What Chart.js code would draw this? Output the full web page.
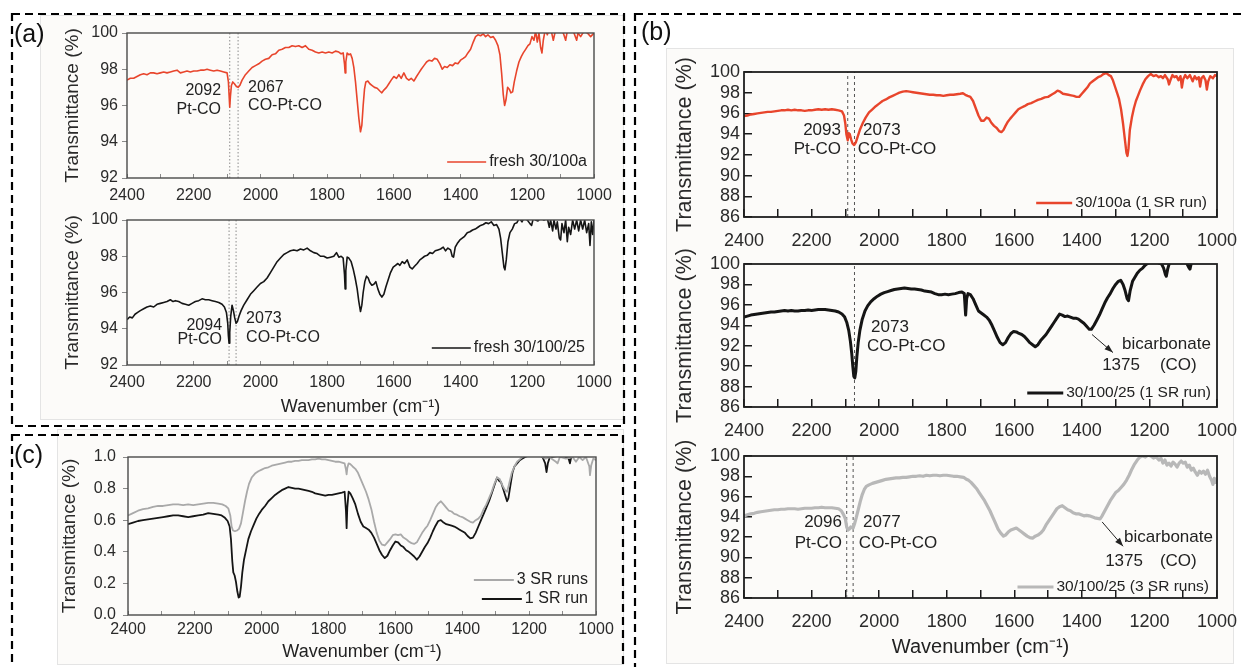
<!DOCTYPE html>
<html>
<head>
<meta charset="utf-8">
<script src="https://cdn.jsdelivr.net/npm/chart.js@4.4.1/dist/chart.umd.min.js"></script>
<style>
body{margin:0;background:#fff;width:1241px;height:667px;overflow:hidden;position:relative;font-family:"Liberation Sans",Arial,sans-serif}
canvas{position:absolute}
.sheet{position:absolute;background:#fcfbf9;border:1px solid #e4e4e4}
.tag{position:absolute;font-size:25px;color:#111;line-height:1}
svg{position:absolute;left:0;top:0}
</style>
</head>
<body>
<div class="sheet" style="left:40px;top:15px;width:582px;height:403px"></div>
<div class="sheet" style="left:57px;top:429px;width:565px;height:234px"></div>
<div class="sheet" style="left:666px;top:48px;width:566px;height:614px"></div>

<canvas id="a1"></canvas>
<canvas id="a2"></canvas>
<canvas id="c1"></canvas>
<canvas id="b1"></canvas>
<canvas id="b2"></canvas>
<canvas id="b3"></canvas>

<svg width="1241" height="667">
  <g fill="none" stroke="#000" stroke-width="2.2" stroke-dasharray="8 5">
    <rect x="12" y="14" width="612" height="412"/>
    <rect x="12" y="435" width="611" height="250"/>
    <rect x="635" y="14" width="630" height="680"/>
  </g>
</svg>
<div class="tag" style="left:14px;top:21px">(a)</div>
<div class="tag" style="left:641px;top:19px">(b)</div>
<div class="tag" style="left:14px;top:442px">(c)</div>

<script>
const FONT = '"Liberation Sans", Arial, sans-serif';

// (a) fresh 30/100a
const waveA1 = [2400,2390,2380,2370,2360,2350,2340,2330,2320,2310,2300,2290,2280,2270,2260,2250,2240,2230,2220,2210,2200,2190,2180,2170,2160,2150,2140,2130,2120,2110,2100,2096,2094,2092,2090,2087,2083,2078,2072,2067,2062,2055,2045,2035,2025,2015,2005,1995,1985,1975,1965,1955,1945,1935,1925,1915,1905,1895,1885,1875,1865,1855,1845,1835,1825,1815,1805,1795,1785,1775,1765,1758,1752,1748,1746,1744,1740,1735,1730,1725,1720,1715,1710,1705,1700,1696,1692,1688,1684,1678,1672,1665,1658,1650,1642,1636,1630,1622,1615,1608,1600,1592,1585,1578,1570,1562,1555,1548,1540,1532,1525,1518,1510,1502,1494,1486,1478,1470,1462,1455,1448,1440,1432,1424,1416,1408,1400,1392,1385,1378,1370,1362,1355,1348,1340,1332,1325,1318,1310,1302,1295,1288,1282,1277,1272,1268,1264,1259,1254,1249,1244,1239,1232,1225,1218,1212,1205,1198,1192,1186,1180,1175,1170,1165,1160,1156,1152,1146,1140,1134,1128,1122,1116,1110,1100,1092,1085,1080,1070,1060,1052,1048,1040,1030,1020,1010,1000];
const transA1 = [97.4,97.5,97.5,97.6,97.7,97.75,97.7,97.8,97.8,97.75,97.8,97.85,97.8,97.85,97.9,97.95,97.8,97.85,97.9,97.85,97.9,97.9,97.95,97.95,98.0,97.95,97.9,97.95,97.9,97.85,97.8,97.3,96.6,95.9,96.5,97.1,97.3,97.2,97.05,97.0,97.1,97.4,97.7,97.9,98.1,98.2,98.3,98.45,98.55,98.6,98.8,98.85,99.05,99.1,99.2,99.2,99.3,99.25,99.3,99.2,99.3,99.1,99.05,98.95,98.9,98.95,98.9,98.95,98.9,99.0,98.95,98.85,98.9,98.3,97.8,98.4,98.9,98.8,98.85,98.6,98.1,97.3,96.3,95.3,94.55,94.9,96.0,96.9,97.3,97.35,97.2,97.1,97.0,96.95,96.8,96.7,96.85,97.0,97.2,97.4,97.6,97.5,97.7,97.5,97.8,97.5,97.4,97.5,97.35,97.6,97.8,98.0,98.2,98.4,98.5,98.45,98.6,98.55,98.3,98.0,98.15,98.1,98.25,98.2,98.35,98.3,98.5,98.6,98.7,98.9,99.1,99.5,99.8,99.9,99.85,99.95,99.8,99.9,99.75,99.8,99.6,99.3,98.8,97.8,96.6,96.0,96.3,97.0,96.9,96.7,96.75,97.3,97.9,98.4,98.7,98.9,99.1,99.3,99.4,99.8,99.6,100.1,99.5,100.0,99.2,98.9,99.6,100.2,99.9,100.2,100.1,99.6,100.1,100.2,100.1,100.0,99.6,100.1,100.2,100.0,99.6,100.0,99.8,100.1,100.0,99.8,100.0];

// (a) fresh 30/100/25
const waveA2 = [2400,2392,2384,2376,2368,2360,2350,2340,2330,2320,2310,2300,2290,2280,2270,2262,2255,2245,2235,2225,2215,2205,2195,2185,2175,2165,2155,2145,2135,2125,2115,2108,2102,2098,2096,2094,2092,2089,2085,2081,2077,2073,2069,2064,2058,2050,2040,2030,2020,2010,2000,1990,1980,1970,1960,1950,1940,1930,1920,1910,1900,1890,1880,1870,1860,1850,1840,1830,1820,1810,1800,1790,1780,1772,1765,1758,1752,1748,1746,1744,1740,1735,1728,1722,1716,1710,1705,1700,1696,1692,1687,1682,1677,1672,1666,1660,1654,1648,1642,1636,1630,1624,1617,1610,1602,1595,1588,1582,1575,1568,1560,1552,1545,1538,1530,1522,1515,1508,1500,1492,1484,1476,1468,1460,1452,1445,1438,1430,1425,1421,1416,1410,1402,1395,1388,1380,1372,1364,1356,1348,1340,1332,1324,1316,1308,1300,1292,1285,1280,1275,1270,1267,1263,1258,1252,1245,1238,1231,1224,1216,1210,1200,1192,1187,1182,1175,1168,1160,1150,1140,1134,1130,1124,1120,1114,1110,1104,1100,1096,1090,1085,1080,1076,1070,1064,1058,1052,1046,1040,1034,1028,1022,1016,1012,1008,1004,1000];
const transA2 = [94.5,94.65,94.6,94.8,94.9,95.0,95.1,95.2,95.25,95.2,95.35,95.4,95.45,95.5,95.6,95.5,95.55,95.5,95.4,95.35,95.3,95.4,95.5,95.55,95.65,95.6,95.6,95.55,95.5,95.45,95.35,95.2,94.9,94.3,93.6,93.2,93.8,94.7,95.3,95.0,94.6,94.3,94.4,94.7,95.0,95.3,95.6,95.9,96.1,96.3,96.5,96.6,96.8,97.1,97.4,97.7,97.9,98.1,98.2,98.3,98.35,98.3,98.4,98.35,98.45,98.3,98.2,98.15,98.0,98.0,97.9,97.95,98.0,98.2,97.95,98.0,97.9,97.0,96.2,97.2,97.95,97.9,97.7,97.3,96.8,96.2,95.5,94.95,95.3,96.0,96.6,96.9,96.8,96.55,96.4,96.45,96.6,96.2,95.9,95.75,95.9,96.3,96.7,97.1,97.4,97.5,97.6,97.5,97.7,97.6,97.8,97.4,97.3,97.45,97.6,97.8,97.9,98.0,98.05,98.2,98.15,98.3,98.35,98.4,98.5,98.3,98.45,98.35,98.0,97.95,98.5,98.7,98.9,99.0,99.1,99.3,99.35,99.45,99.5,99.6,99.7,99.75,99.85,99.8,99.9,99.7,99.75,99.5,99.0,98.2,97.4,97.25,97.8,98.8,99.3,99.5,99.8,99.85,100.1,99.9,100.1,100.0,99.8,99.7,100.1,100.0,99.95,100.1,100.0,100.1,99.6,100.0,99.4,100.0,99.5,99.9,99.0,98.9,99.8,99.3,100.0,98.8,99.6,99.2,100.0,99.5,100.0,99.4,100.0,99.5,100.0,99.3,99.8,98.6,99.9,99.2,100.0];

// (c) 3 SR runs / 1 SR run
const waveC3 = [2400,2385,2370,2355,2340,2325,2310,2295,2280,2265,2250,2235,2220,2205,2190,2175,2160,2145,2130,2118,2108,2100,2094,2090,2086,2080,2074,2068,2062,2056,2050,2044,2038,2030,2020,2010,2000,1990,1980,1970,1960,1950,1940,1930,1920,1910,1900,1890,1880,1870,1860,1850,1840,1830,1820,1810,1800,1790,1780,1770,1760,1752,1748,1746,1744,1740,1735,1728,1720,1712,1704,1696,1688,1680,1672,1664,1656,1648,1640,1632,1624,1616,1608,1600,1592,1584,1576,1568,1560,1552,1544,1536,1528,1520,1512,1504,1496,1488,1480,1472,1464,1456,1448,1440,1432,1424,1416,1408,1400,1392,1384,1376,1368,1360,1352,1344,1336,1328,1320,1312,1304,1296,1288,1280,1272,1266,1260,1252,1244,1236,1228,1220,1212,1200,1190,1180,1150,1140,1120,1115,1108,1090,1070,1060,1050,1040,1030,1020,1018,1014,1008,1000];
const transC3 = [0.63,0.645,0.66,0.67,0.675,0.685,0.69,0.69,0.695,0.70,0.70,0.695,0.70,0.695,0.70,0.705,0.71,0.71,0.705,0.70,0.69,0.675,0.63,0.56,0.535,0.53,0.535,0.545,0.58,0.65,0.72,0.78,0.83,0.87,0.895,0.91,0.92,0.93,0.935,0.945,0.95,0.955,0.96,0.965,0.97,0.97,0.975,0.975,0.98,0.98,0.98,0.985,0.985,0.99,0.985,0.985,0.98,0.975,0.97,0.97,0.965,0.96,0.92,0.89,0.93,0.96,0.955,0.94,0.925,0.90,0.86,0.82,0.78,0.73,0.67,0.59,0.52,0.47,0.445,0.44,0.46,0.48,0.505,0.51,0.505,0.51,0.49,0.48,0.465,0.455,0.45,0.46,0.49,0.52,0.545,0.565,0.60,0.64,0.68,0.705,0.72,0.70,0.68,0.66,0.655,0.64,0.635,0.625,0.62,0.61,0.60,0.59,0.585,0.60,0.61,0.63,0.67,0.70,0.74,0.78,0.83,0.87,0.86,0.82,0.79,0.78,0.83,0.90,0.94,0.97,0.985,1.0,1.01,1.02,1.01,1.02,0.99,1.0,0.97,0.96,1.0,0.99,1.0,0.97,1.0,0.98,1.0,0.94,0.885,0.95,0.99,0.98];
const waveC1 = [2400,2385,2370,2355,2340,2325,2310,2295,2280,2265,2250,2235,2220,2205,2190,2175,2160,2145,2130,2120,2110,2102,2096,2092,2088,2085,2081,2077,2073,2069,2066,2062,2058,2053,2046,2040,2032,2024,2016,2008,2000,1990,1980,1970,1960,1950,1940,1930,1920,1910,1900,1890,1880,1870,1860,1850,1840,1830,1820,1810,1800,1790,1780,1770,1760,1752,1748,1746,1744,1740,1735,1728,1720,1712,1704,1696,1688,1680,1672,1664,1656,1648,1640,1632,1624,1616,1608,1600,1592,1584,1576,1568,1560,1552,1544,1536,1528,1520,1512,1504,1496,1488,1480,1472,1464,1456,1448,1440,1432,1424,1416,1408,1400,1392,1384,1376,1368,1360,1352,1344,1336,1328,1320,1312,1304,1296,1290,1284,1278,1272,1266,1262,1256,1250,1244,1236,1228,1220,1212,1200,1180,1160,1152,1148,1144,1138,1100,1082,1078,1074,1050,1000];
const transC1 = [0.575,0.585,0.595,0.60,0.605,0.61,0.615,0.62,0.625,0.63,0.63,0.625,0.62,0.625,0.63,0.635,0.645,0.64,0.635,0.63,0.615,0.595,0.56,0.48,0.34,0.27,0.25,0.21,0.15,0.11,0.115,0.18,0.27,0.35,0.42,0.48,0.53,0.57,0.61,0.64,0.665,0.69,0.72,0.74,0.76,0.775,0.79,0.80,0.81,0.805,0.80,0.80,0.795,0.79,0.785,0.78,0.77,0.765,0.76,0.755,0.76,0.76,0.765,0.77,0.775,0.78,0.66,0.55,0.68,0.78,0.77,0.74,0.70,0.64,0.59,0.56,0.55,0.54,0.52,0.49,0.45,0.41,0.38,0.36,0.375,0.41,0.44,0.465,0.46,0.44,0.43,0.41,0.40,0.385,0.37,0.35,0.37,0.40,0.43,0.455,0.49,0.53,0.565,0.595,0.60,0.585,0.575,0.57,0.565,0.56,0.55,0.54,0.53,0.52,0.50,0.485,0.49,0.52,0.56,0.60,0.64,0.68,0.72,0.77,0.82,0.87,0.85,0.84,0.80,0.76,0.72,0.74,0.82,0.90,0.94,0.96,0.98,0.99,1.0,1.01,1.02,1.0,0.96,0.905,0.96,1.0,1.01,0.99,0.96,1.0,1.02,1.02];

// (b) 30/100a (1 SR run)
const waveB1 = [2400,2390,2380,2370,2360,2350,2340,2330,2320,2310,2300,2290,2280,2270,2260,2250,2240,2230,2220,2210,2200,2190,2180,2170,2160,2150,2140,2130,2120,2110,2104,2100,2097,2093,2090,2087,2083,2079,2074,2069,2063,2056,2048,2040,2030,2020,2010,2000,1990,1980,1970,1960,1950,1940,1930,1920,1910,1900,1890,1880,1870,1860,1850,1840,1830,1820,1810,1800,1790,1780,1770,1760,1752,1745,1738,1730,1722,1714,1706,1698,1690,1682,1675,1668,1660,1652,1645,1638,1632,1626,1619,1612,1604,1596,1588,1580,1570,1560,1550,1540,1530,1520,1510,1500,1490,1480,1472,1464,1456,1448,1440,1432,1424,1416,1408,1400,1392,1384,1376,1368,1360,1352,1344,1336,1328,1320,1314,1308,1302,1296,1290,1284,1278,1272,1268,1265,1262,1258,1252,1246,1240,1234,1228,1220,1212,1204,1196,1188,1180,1172,1166,1160,1154,1146,1142,1138,1132,1126,1120,1114,1108,1104,1100,1094,1088,1080,1072,1066,1060,1054,1050,1046,1040,1034,1030,1026,1020,1012,1006,1000];
const transB1 = [95.75,95.8,95.9,95.95,96.0,96.05,96.1,96.15,96.15,96.2,96.25,96.3,96.3,96.35,96.3,96.35,96.3,96.3,96.25,96.3,96.3,96.35,96.4,96.35,96.4,96.35,96.4,96.35,96.3,96.2,95.8,95.0,94.0,93.4,94.1,94.0,93.5,93.1,92.95,93.2,93.8,94.5,95.1,95.6,96.1,96.4,96.7,96.95,97.2,97.35,97.55,97.7,97.85,98.0,98.1,98.15,98.1,98.05,98.0,97.95,97.9,97.85,97.8,97.8,97.75,97.75,97.7,97.75,97.8,97.8,97.85,97.9,97.95,97.8,97.7,97.6,97.2,96.5,95.8,95.3,95.3,95.6,95.5,95.1,94.8,94.6,94.3,94.2,94.4,94.8,95.2,95.5,95.8,96.1,96.4,96.55,96.7,96.9,97.0,97.15,97.3,97.4,97.55,97.6,97.8,98.0,98.2,98.1,97.9,97.85,97.8,97.75,97.7,97.6,97.6,97.9,98.2,98.5,98.9,99.1,99.3,99.5,99.6,99.8,99.9,99.7,99.6,99.2,98.6,98.0,97.4,96.4,95.0,93.3,92.2,91.9,92.6,94.4,95.6,96.5,97.2,97.7,98.2,98.8,99.3,99.6,99.8,99.6,99.7,99.5,99.6,99.4,99.7,99.3,98.8,99.2,99.7,99.5,99.6,99.2,99.6,98.5,99.3,99.7,99.4,99.7,99.1,99.6,99.3,99.5,98.6,99.4,99.6,99.2,98.3,99.1,99.6,99.4,99.7,99.6];

// (b) 30/100/25 (1 SR run)
const waveB2 = [2400,2390,2380,2370,2360,2350,2340,2330,2320,2310,2300,2290,2280,2270,2260,2250,2240,2230,2220,2210,2200,2190,2180,2170,2160,2150,2140,2130,2120,2110,2102,2096,2090,2085,2081,2078,2075,2072,2069,2066,2062,2057,2050,2042,2034,2025,2015,2005,1995,1985,1975,1965,1955,1945,1935,1925,1915,1905,1895,1885,1875,1865,1855,1845,1835,1825,1815,1805,1795,1785,1775,1765,1755,1748,1744,1741,1737,1730,1722,1714,1706,1698,1690,1682,1674,1666,1658,1650,1642,1634,1626,1618,1610,1602,1594,1586,1578,1570,1562,1554,1546,1538,1530,1522,1514,1506,1498,1490,1482,1474,1466,1458,1450,1442,1434,1426,1418,1410,1402,1394,1386,1378,1372,1364,1356,1348,1340,1332,1324,1316,1308,1300,1292,1285,1278,1272,1266,1262,1257,1250,1243,1236,1228,1220,1212,1204,1196,1188,1180,1172,1164,1158,1153,1150,1146,1140,1120,1100,1090,1084,1080,1076,1060,1040,1020,1000];
const transB2 = [94.8,94.9,95.0,95.05,95.1,95.15,95.2,95.25,95.3,95.3,95.35,95.4,95.45,95.4,95.45,95.4,95.4,95.45,95.45,95.5,95.45,95.5,95.55,95.55,95.55,95.5,95.45,95.4,95.3,95.1,94.8,94.3,93.5,92.4,91.2,90.0,89.0,88.85,89.5,90.9,92.3,93.5,94.6,95.4,95.9,96.3,96.6,96.85,97.05,97.2,97.3,97.4,97.5,97.55,97.6,97.65,97.6,97.55,97.55,97.5,97.45,97.35,97.3,97.25,97.1,97.0,97.0,97.05,97.0,97.05,97.1,97.2,97.25,97.1,95.0,96.6,97.1,97.0,96.6,96.0,95.4,95.2,95.0,94.8,94.5,94.0,93.4,92.8,92.3,92.1,92.3,92.8,93.2,93.4,93.35,93.2,93.1,92.9,92.6,92.3,92.1,91.9,92.1,92.5,92.8,93.1,93.5,93.9,94.3,94.7,95.1,95.0,94.85,94.9,94.8,94.7,94.7,94.6,94.4,94.2,93.9,93.6,93.6,94.0,94.5,95.0,95.6,96.2,96.7,97.1,97.6,98.0,98.3,98.4,98.0,97.4,96.6,96.4,97.4,98.3,98.7,99.1,99.4,99.6,99.9,100.1,100.2,100.3,100.2,100.1,100.0,99.6,99.0,98.8,99.5,100.2,100.4,100.3,100.1,99.7,99.5,100.1,100.4,100.5,100.4,100.5];

// (b) 30/100/25 (3 SR runs)
const waveB3 = [2400,2390,2380,2370,2360,2350,2340,2330,2320,2310,2300,2290,2280,2270,2260,2250,2240,2230,2220,2210,2200,2190,2180,2170,2160,2150,2140,2130,2120,2112,2105,2100,2096,2092,2088,2084,2080,2077,2073,2068,2062,2056,2050,2044,2038,2030,2020,2010,2000,1990,1980,1970,1960,1950,1940,1930,1920,1910,1900,1890,1880,1870,1860,1850,1840,1830,1820,1810,1800,1790,1780,1770,1760,1750,1742,1735,1728,1720,1712,1704,1696,1688,1680,1672,1664,1656,1648,1640,1632,1626,1618,1610,1602,1594,1586,1578,1570,1562,1554,1546,1538,1530,1522,1514,1506,1498,1490,1482,1474,1466,1458,1450,1442,1434,1426,1418,1410,1402,1394,1386,1378,1370,1362,1354,1346,1340,1332,1324,1316,1308,1300,1292,1284,1276,1268,1260,1252,1244,1236,1228,1220,1212,1204,1196,1188,1180,1172,1166,1160,1154,1148,1142,1136,1130,1124,1118,1112,1106,1100,1094,1088,1082,1076,1070,1064,1058,1052,1046,1040,1034,1028,1022,1016,1012,1008,1004,1000];
const transB3 = [94.1,94.2,94.3,94.35,94.45,94.5,94.55,94.6,94.65,94.7,94.7,94.75,94.75,94.8,94.8,94.8,94.75,94.8,94.85,94.85,94.85,94.9,94.9,94.95,94.9,94.9,94.9,94.85,94.8,94.6,94.2,93.8,93.0,92.7,92.8,93.0,92.95,92.9,93.3,93.9,94.7,95.5,96.2,96.7,97.0,97.15,97.3,97.4,97.5,97.6,97.7,97.75,97.8,97.85,97.85,97.9,97.9,97.95,98.0,98.0,98.05,98.0,98.1,98.05,98.1,98.1,98.05,98.1,98.1,98.05,98.0,98.0,97.95,97.9,97.7,97.6,97.4,97.1,96.8,96.4,96.0,95.6,95.1,94.6,94.0,93.4,92.8,92.4,92.1,92.2,92.5,92.7,92.8,92.9,92.7,92.5,92.3,92.1,91.95,91.9,92.1,92.2,92.4,92.7,93.2,93.6,94.0,94.4,94.8,95.0,95.1,94.9,94.7,94.6,94.4,94.3,94.3,94.2,94.1,94.15,94.1,94.0,93.9,93.85,93.8,94.1,94.6,95.1,95.6,96.0,96.4,96.6,96.9,97.2,97.6,98.1,98.7,99.2,99.6,99.9,100.0,99.9,100.1,100.0,99.8,99.9,99.6,99.8,99.3,99.6,99.1,99.3,99.0,99.4,99.2,98.9,99.3,99.5,99.3,99.4,98.9,99.1,98.6,98.8,98.4,98.1,98.5,98.3,98.5,98.2,98.6,98.0,97.6,97.2,97.8,97.4,97.6];

const RED = '#e8452c', BLACK = '#151515', GREY = '#b8b8b8';

function pts(xs, ys) {
  return xs.map((x, i) => ({x: x, y: ys[i]}));
}

function spectrum(label, xs, ys, color, width) {
  return {label: label, data: pts(xs, ys), borderColor: color, borderWidth: width,
          pointRadius: 0, tension: 0, borderJoinStyle: 'round', fill: false};
}

// vertical dotted guide at a band position, spanning the whole y range
function guide(x, lo, hi, color, dash) {
  return {label: '', data: [{x: x, y: lo}, {x: x, y: hi}], borderColor: color, borderWidth: 1,
          borderDash: dash, pointRadius: 0, fill: false};
}

// box round the plot area
const framePlugin = {
  id: 'frame',
  afterDatasetsDraw(chart, args, o) {
    const a = chart.chartArea, c = chart.ctx;
    c.save();
    c.strokeStyle = o.color;
    c.lineWidth = o.width;
    c.strokeRect(a.left, a.top, a.right - a.left, a.bottom - a.top);
    c.restore();
  }
};

// peak labels, arrows and the in-plot legend
const notesPlugin = {
  id: 'notes',
  afterDatasetsDraw(chart, args, o) {
    const c = chart.ctx, xs = chart.scales.x, ys = chart.scales.y, a = chart.chartArea;
    c.save();
    c.fillStyle = '#222';
    c.strokeStyle = '#222';
    c.textBaseline = 'middle';
    c.font = o.size + 'px ' + FONT;
    (o.arrows || []).forEach(ar => {
      const x1 = xs.getPixelForValue(ar[0]), y1 = ys.getPixelForValue(ar[1]);
      const x2 = xs.getPixelForValue(ar[2]), y2 = ys.getPixelForValue(ar[3]);
      const ang = Math.atan2(y2 - y1, x2 - x1);
      c.lineWidth = 1;
      c.beginPath(); c.moveTo(x1, y1); c.lineTo(x2, y2); c.stroke();
      c.beginPath();
      c.moveTo(x2, y2);
      c.lineTo(x2 - 9 * Math.cos(ang - 0.35), y2 - 9 * Math.sin(ang - 0.35));
      c.lineTo(x2 - 9 * Math.cos(ang + 0.35), y2 - 9 * Math.sin(ang + 0.35));
      c.closePath(); c.fill();
    });
    (o.items || []).forEach(n => {
      c.textAlign = n[3] || 'left';
      c.fillText(n[2], xs.getPixelForValue(n[0]), ys.getPixelForValue(n[1]));
    });
    c.font = o.legendSize + 'px ' + FONT;
    (o.legend || []).forEach((row, i) => {
      const ds = chart.data.datasets[row];
      const y = a.bottom - o.legendBottom - (o.legend.length - 1 - i) * o.legendStep;
      const xr = a.right - o.legendRight;
      c.textAlign = 'right';
      c.fillText(ds.label, xr, y);
      const w = c.measureText(ds.label).width;
      c.strokeStyle = ds.borderColor;
      c.lineWidth = ds.borderWidth;
      c.beginPath();
      c.moveTo(xr - w - 3 - o.legendLine, y);
      c.lineTo(xr - w - 3, y);
      c.stroke();
    });
    c.restore();
  }
};

// place a canvas so that its plot area lands on the given rectangle;
// pt/pr must leave room for the half-labels Chart.js reserves at the ends
function makeChart(id, plot, lay, sc, datasets, notes, frame) {
  const cv = document.getElementById(id);
  const w = lay.yw + (plot.r - plot.l) + lay.pr;
  const h = lay.pt + (plot.b - plot.t) + lay.xh;
  cv.width = w; cv.height = h;
  cv.style.left = (plot.l - lay.yw) + 'px';
  cv.style.top = (plot.t - lay.pt) + 'px';
  cv.style.width = w + 'px'; cv.style.height = h + 'px';
  return new Chart(cv, {
    type: 'line',
    data: {datasets: datasets},
    plugins: [framePlugin, notesPlugin],
    options: {
      responsive: false, animation: false, devicePixelRatio: 1,
      layout: {padding: {top: lay.pt, right: lay.pr, left: 0, bottom: 0}},
      plugins: {legend: {display: false}, tooltip: {enabled: false}, frame: frame, notes: notes},
      scales: {
        x: {
          type: 'linear', reverse: true, min: 1000, max: 2400,
          afterFit(s) { s.height = lay.xh; },
          border: {display: false},
          grid: {drawOnChartArea: false, tickLength: sc.xtl, color: sc.tickColor, lineWidth: sc.tickWidth},
          ticks: {stepSize: 100, autoSkip: false, maxRotation: 0, padding: sc.xpad, color: '#2a2a2a',
                  font: {family: FONT, size: sc.tick},
                  callback: v => (v % 200 === 0 ? String(v) : '')},
          title: {display: !!sc.xtitle, text: 'Wavenumber (cm⁻¹)', color: '#222',
                  font: {family: FONT, size: sc.xtitleSize}, padding: {top: 0, bottom: 0}}
        },
        y: {
          min: sc.ymin, max: sc.ymax,
          afterFit(s) { s.width = lay.yw; },
          border: {display: false},
          grid: {drawOnChartArea: false, tickLength: sc.ytl, color: sc.tickColor, lineWidth: sc.tickWidth},
          ticks: {stepSize: sc.ystep, autoSkip: false, padding: sc.ypad, color: '#2a2a2a',
                  font: {family: FONT, size: sc.tick},
                  callback: v => (sc.ystep < 1 ? v.toFixed(1) : String(v))},
          title: {display: true, text: 'Transmittance (%)', color: '#2a2a2a',
                  font: {family: FONT, size: sc.ytitleSize}, padding: {top: sc.ytpad, bottom: 0}}
        }
      }
    }
  });
}

const scaleA = {ymin: 92, ymax: 100, ystep: 2, tick: 16, xtitleSize: 18, ytitleSize: 19, xtl: -4, ytl: 5,
                xpad: 12, ypad: 4, ytpad: 21, tickColor: '#8a8a8a', tickWidth: 1};
const scaleC = {ymin: 0, ymax: 1, ystep: 0.2, tick: 16, xtitleSize: 18, ytitleSize: 19, xtl: -4, ytl: 5,
                xpad: 9, ypad: 7, ytpad: 18, tickColor: '#8a8a8a', tickWidth: 1, xtitle: true};
const scaleB = {ymin: 86, ymax: 100, ystep: 2, tick: 18, xtitleSize: 20, ytitleSize: 21.5, xtl: -8, ytl: -8,
                xpad: 21, ypad: 12, ytpad: 22, tickColor: '#1a1a1a', tickWidth: 1.5};
const frameA = {color: '#4a4a4a', width: 1.4};
const frameB = {color: '#1f1f1f', width: 1.8};
const dotA = [1.5, 2], dotB = [3, 3];

makeChart('a1', {l: 127, t: 33, r: 594, b: 178}, {yw: 87, xh: 34, pt: 16, pr: 34}, scaleA, [
  spectrum('fresh 30/100a', waveA1, transA1, RED, 1.6),
  guide(2092, 92, 100, '#8c8c8c', dotA),
  guide(2067, 92, 100, '#8c8c8c', dotA)
], {size: 16, items: [[2118, 96.85, '2092', 'right'], [2118, 95.75, 'Pt-CO', 'right'],
                      [2037, 97.0, '2067'], [2037, 95.97, 'CO-Pt-CO']],
    legend: [0], legendSize: 16, legendBottom: 16, legendRight: 7, legendLine: 39, legendStep: 19}, frameA);

makeChart('a2', {l: 127, t: 220, r: 594, b: 365}, {yw: 87, xh: 53, pt: 16, pr: 34},
  Object.assign({}, scaleA, {xtitle: true}), [
  spectrum('fresh 30/100/25', waveA2, transA2, BLACK, 1.6),
  guide(2094, 92, 100, '#8c8c8c', dotA),
  guide(2073, 92, 100, '#8c8c8c', dotA)
], {size: 16, items: [[2115, 94.2, '2094', 'right'], [2115, 93.38, 'Pt-CO', 'right'],
                      [2043, 94.54, '2073'], [2043, 93.5, 'CO-Pt-CO']],
    legend: [0], legendSize: 16, legendBottom: 17, legendRight: 9, legendLine: 39, legendStep: 19}, frameA);

makeChart('c1', {l: 128, t: 457, r: 596, b: 615}, {yw: 88, xh: 48, pt: 19, pr: 32}, scaleC, [
  spectrum('3 SR runs', waveC3, transC3, '#a9a9a9', 1.8),
  spectrum('1 SR run', waveC1, transC1, BLACK, 1.8)
], {size: 16, legend: [0, 1], legendSize: 16, legendBottom: 16, legendRight: 8, legendLine: 40, legendStep: 19},
  frameA);

makeChart('b1', {l: 744, t: 72, r: 1217, b: 217}, {yw: 94, xh: 38, pt: 40, pr: 46}, scaleB, [
  spectrum('30/100a (1 SR run)', waveB1, transB1, RED, 2.4),
  guide(2093, 86, 100, '#555', dotB),
  guide(2073, 86, 100, '#555', dotB)
], {size: 17, items: [[2113, 94.4, '2093', 'right'], [2113, 92.57, 'Pt-CO', 'right'],
                      [2048, 94.4, '2073'], [2063, 92.57, 'CO-Pt-CO']],
    legend: [0], legendSize: 15.5, legendBottom: 14, legendRight: 10, legendLine: 36, legendStep: 19}, frameB);

makeChart('b2', {l: 744, t: 264, r: 1217, b: 407}, {yw: 94, xh: 38, pt: 26, pr: 46}, scaleB, [
  spectrum('30/100/25 (1 SR run)', waveB2, transB2, BLACK, 3),
  guide(2073, 86, 100, '#555', dotB)
], {size: 17, items: [[2024, 93.83, '2073'], [2036, 91.97, 'CO-Pt-CO'], [1281, 92.17, 'bicarbonate'],
                      [1340, 90.1, '1375'], [1169, 90.1, '(CO)']],
    arrows: [[1370, 93.1, 1308, 91.33]],
    legend: [0], legendSize: 15.5, legendBottom: 14, legendRight: 6, legendLine: 36, legendStep: 19}, frameB);

makeChart('b3', {l: 744, t: 456, r: 1217, b: 598}, {yw: 94, xh: 61, pt: 26, pr: 46},
  Object.assign({}, scaleB, {xtitle: true}), [
  spectrum('30/100/25 (3 SR runs)', waveB3, transB3, GREY, 3.2),
  guide(2096, 86, 100, '#555', dotB),
  guide(2077, 86, 100, '#555', dotB)
], {size: 17, items: [[2110, 93.5, '2096', 'right'], [2110, 91.4, 'Pt-CO', 'right'],
                      [2048, 93.5, '2077'], [2060, 91.4, 'CO-Pt-CO'], [1275, 92.0, 'bicarbonate'],
                      [1331, 89.65, '1375'], [1169, 89.65, '(CO)']],
    arrows: [[1340, 93.5, 1278, 91.1]],
    legend: [0], legendSize: 15.5, legendBottom: 11, legendRight: 8, legendLine: 36, legendStep: 19}, frameB);
</script>
</body>
</html>
